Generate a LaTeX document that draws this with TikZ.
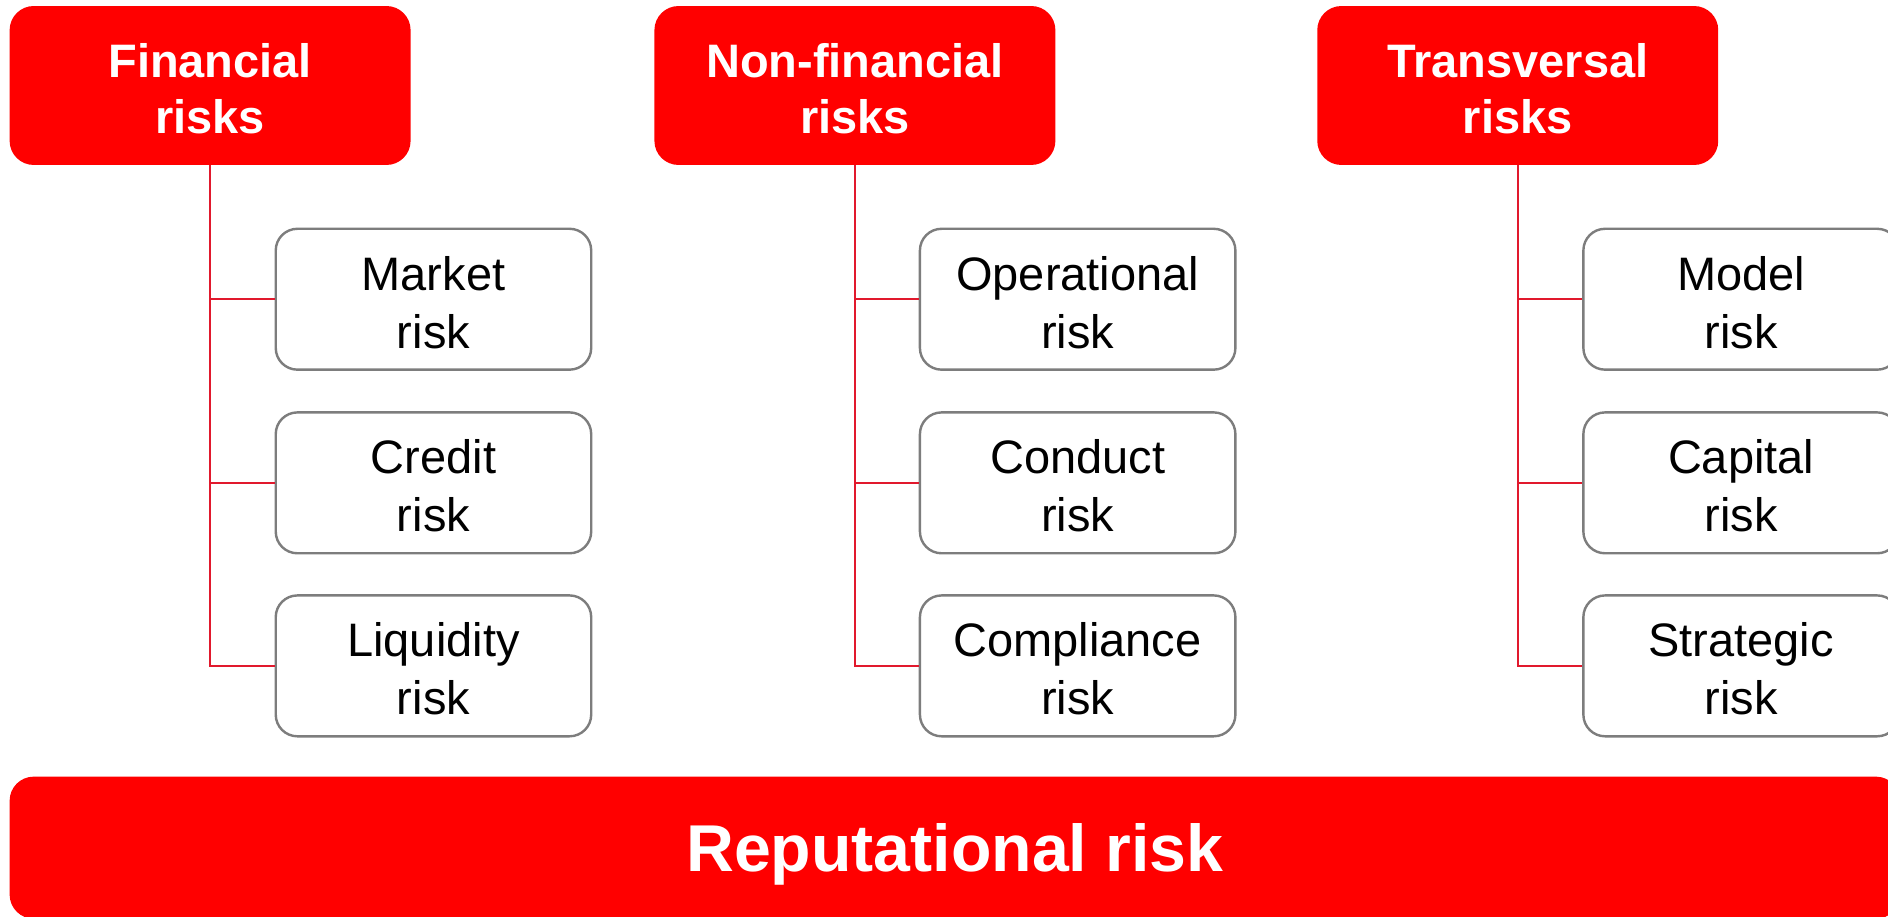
\documentclass[tikz,border=0pt]{standalone}
\usepackage{fontspec}
\setmainfont{Liberation Sans}
\definecolor{rred}{RGB}{255,0,0}
\definecolor{lred}{RGB}{225,25,45}
\definecolor{bgray}{RGB}{125,125,125}
\newcommand{\upstrut}{\rule{0pt}{33.5pt}}
\begin{document}
\begin{tikzpicture}[x=1pt,y=-1pt,
  head/.style={fill=rred, rounded corners=20pt, minimum width=333pt, minimum height=132pt,
    text=white, font=\fontsize{39}{47}\selectfont\bfseries, align=center, inner sep=0pt},
  sub/.style={draw=bgray, line width=2pt, rounded corners=18pt, minimum width=262pt,
    minimum height=117pt, fill=white, text=black, font=\fontsize{39}{48}\selectfont,
    align=center, inner sep=0pt},
  bar/.style={fill=rred, rounded corners=20pt, minimum width=1570pt, minimum height=118pt,
    text=white, font=\fontsize{55}{60}\selectfont\bfseries, inner sep=0pt,
    text height=39pt, text depth=-7pt},
  conn/.style={draw=lred, line width=1.3pt}]
\useasboundingbox (0,0) rectangle (1568,761);
\clip (0,0) rectangle (1568,761);
% headers
\node[head] (F) at (174.5,71) {\upstrut Financial\\risks};
\node[head] (N) at (710,71) {\upstrut Non-financial\\risks};
\node[head] (T) at (1260.5,71) {\upstrut Transversal\\risks};
% sub boxes
\node[sub] (F1) at (360,248.5) {\upstrut Market\\risk};
\node[sub] (F2) at (360,401) {\upstrut Credit\\risk};
\node[sub] (F3) at (360,553) {\upstrut Liquidity\\risk};
\node[sub] (N1) at (895,248.5) {\upstrut Operational\\risk};
\node[sub] (N2) at (895,401) {\upstrut Conduct\\risk};
\node[sub] (N3) at (895,553) {\upstrut Compliance\\risk};
\node[sub] (T1) at (1446,248.5) {\upstrut Model\\risk};
\node[sub] (T2) at (1446,401) {\upstrut Capital\\risk};
\node[sub] (T3) at (1446,553) {\upstrut Strategic\\risk};
% bottom bar
\node[bar] (R) at (793,704) {Reputational risk};
% connectors
\foreach \h/\a/\b/\c in {F/F1/F2/F3, N/N1/N2/N3, T/T1/T2/T3}{
  \draw[conn] (\h.south) |- (\c.west);
  \draw[conn] (\h.south |- \a.west) -- (\a.west);
  \draw[conn] (\h.south |- \b.west) -- (\b.west);
}
\end{tikzpicture}
\end{document}
